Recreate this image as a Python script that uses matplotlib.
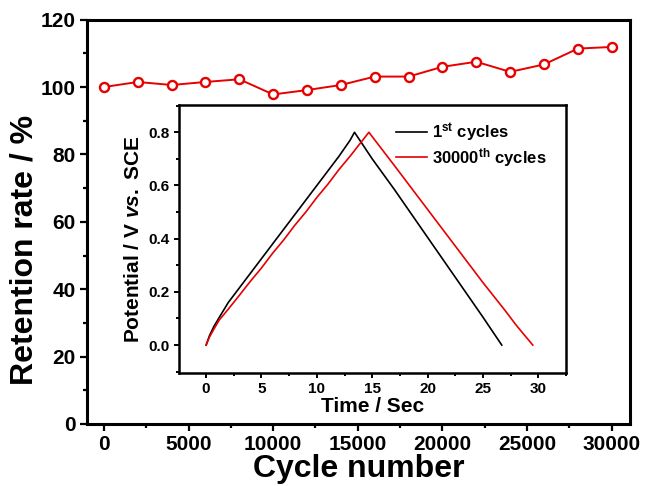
import matplotlib
matplotlib.use("Agg")
import matplotlib.pyplot as plt
from matplotlib.ticker import MultipleLocator

plt.rcParams['font.family'] = ['Liberation Sans', 'DejaVu Sans']
plt.rcParams['font.weight'] = 'bold'
plt.rcParams['axes.labelweight'] = 'bold'
plt.rcParams['mathtext.fontset'] = 'custom'
plt.rcParams['mathtext.rm'] = 'Liberation Sans:bold'
plt.rcParams['mathtext.bf'] = 'Liberation Sans:bold'
plt.rcParams['mathtext.it'] = 'Liberation Sans:bold:italic'

# capacitance retention vs cycle number
cycles = [0, 2000, 4000, 6000, 8000, 10000, 12000, 14000, 16000, 18000,
          20000, 22000, 24000, 26000, 28000, 30000]
retention = [100.0, 101.5, 100.6, 101.5, 102.3, 97.8, 99.1, 100.6, 103.1, 103.1,
             106.0, 107.5, 104.5, 106.7, 111.4, 111.9]

# galvanostatic charge/discharge curves, 1st cycle
t_first = [0, 0.3, 0.7, 1.2, 2, 3, 4, 5, 6, 7, 8, 9, 10, 11, 12, 13, 13.4,
           15, 17, 20, 23, 25, 26.7]
v_first = [0, 0.035, 0.07, 0.105, 0.16, 0.215, 0.27, 0.325, 0.38, 0.435, 0.49, 0.545,
           0.6, 0.655, 0.71, 0.77, 0.8,
           0.70, 0.585, 0.405, 0.225, 0.105, 0.0]

# 30000th cycle
t_last = [0, 0.3, 0.7, 1.2, 2, 3, 4, 5, 6, 7, 8, 9, 10, 11, 12, 13, 14, 14.7,
          17, 20, 23, 25, 27, 28, 29, 29.5]
v_last = [0, 0.03, 0.06, 0.095, 0.135, 0.187, 0.24, 0.29, 0.345, 0.395, 0.45, 0.5,
          0.555, 0.605, 0.66, 0.71, 0.763, 0.8,
          0.675, 0.51, 0.345, 0.235, 0.13, 0.075, 0.025, 0.0]

fig = plt.figure(figsize=(6.49, 4.86), dpi=100)
ax = fig.add_axes([0.134, 0.1276, 0.8367, 0.832])

ax.plot(cycles, retention, color='#e60000', lw=1.4, marker='o', ms=6.5,
        mew=1.7, mfc='white', mec='#e60000')
ax.set_xlim(-1000, 31080)
ax.set_ylim(0, 120)
ax.xaxis.set_major_locator(MultipleLocator(5000))
ax.xaxis.set_minor_locator(MultipleLocator(2500))
ax.yaxis.set_major_locator(MultipleLocator(20))
ax.yaxis.set_minor_locator(MultipleLocator(10))
ax.tick_params(which='major', direction='out', length=5, width=1.6, labelsize=15, pad=3)
ax.tick_params(which='minor', direction='out', length=3, width=1.6)
for s in ax.spines.values():
    s.set_linewidth(2.2)
ax.set_xlabel('Cycle number', fontsize=23, labelpad=0)
ax.set_ylabel('Retention rate / %', fontsize=23)
ax.yaxis.set_label_coords(-0.088, 0.43)

ins = fig.add_axes([0.2758, 0.2325, 0.5963, 0.5514])
ins.plot(t_first, v_first, color='black', lw=1.2, label=r'1$^{\rm st}$ cycles')
ins.plot(t_last, v_last, color='#e60000', lw=1.2, label=r'30000$^{\rm th}$ cycles')
ins.set_xlim(-2.45, 32.5)
ins.set_ylim(-0.105, 0.9025)
ins.xaxis.set_major_locator(MultipleLocator(5))
ins.xaxis.set_minor_locator(MultipleLocator(2.5))
ins.yaxis.set_major_locator(MultipleLocator(0.2))
ins.yaxis.set_minor_locator(MultipleLocator(0.1))
ins.tick_params(which='major', direction='out', length=3.5, width=1.4, labelsize=11, pad=3)
ins.tick_params(which='minor', direction='out', length=2, width=1.4)
for s in ins.spines.values():
    s.set_linewidth(1.8)
ins.set_xlabel('Time / Sec', fontsize=15, labelpad=1)
ins.set_ylabel(r'Potential / V $\mathit{vs.}$ SCE', fontsize=15, labelpad=4)
ins.legend(loc='upper left', bbox_to_anchor=(0.56, 0.94), frameon=False,
           fontsize=12, handlelength=1.9, handletextpad=0.3,
           labelspacing=0.12, borderpad=0, borderaxespad=0)

fig.savefig('out.png', dpi=100)
